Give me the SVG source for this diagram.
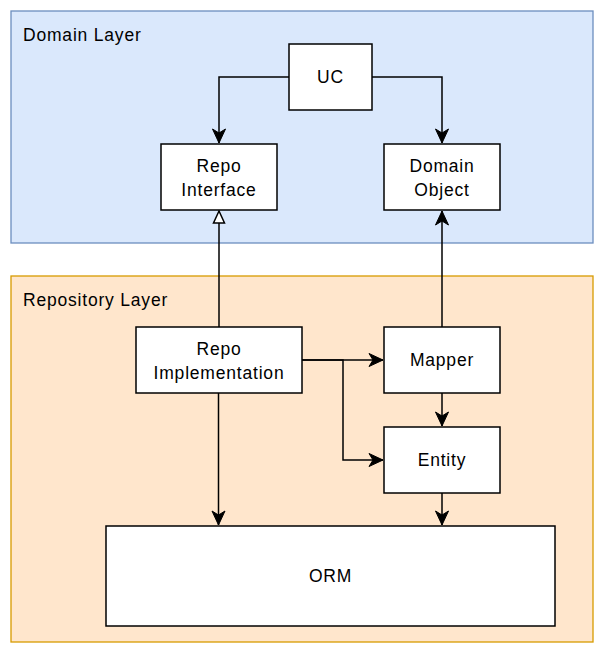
<svg xmlns="http://www.w3.org/2000/svg" width="606" height="657" viewBox="0 0 606 657">
  <style>
    .layer-domain { fill: #dae8fc; stroke: #6c8ebf; stroke-width: 1.3; }
    .layer-repo { fill: #ffe6cc; stroke: #d79b00; stroke-width: 1.3; }
    .node { fill: #ffffff; stroke: #000000; stroke-width: 1.5; }
    .lbl { font-family: "Liberation Sans", Arial, sans-serif; font-size: 17.5px; letter-spacing: 0.8px; fill: #000000; }
    .mid { text-anchor: middle; }
    .edge { fill: none; stroke: #000000; stroke-width: 1.5; }
  </style>
  <defs>
    <marker id="arrow" markerUnits="userSpaceOnUse" viewBox="-15 -8 16 16" refX="0" refY="0" markerWidth="16" markerHeight="16" orient="auto">
      <path d="M0,0 L-14,-6.5 L-10,0 L-14,6.5 Z" fill="#000000" stroke="#000000" stroke-width="1" stroke-linejoin="miter"/>
    </marker>
    <marker id="hollow" markerUnits="userSpaceOnUse" viewBox="-14 -8 16 16" refX="0" refY="0" markerWidth="16" markerHeight="16" orient="auto">
      <path d="M0,0 L-12,-5.5 L-12,5.5 Z" fill="#ffffff" stroke="#000000" stroke-width="1.5"/>
    </marker>
  </defs>

  <g id="domain-layer">
    <rect class="layer-domain" x="11" y="11" width="582" height="232"/>
    <text class="lbl" x="23" y="41">Domain Layer</text>
  </g>
  <g id="repository-layer">
    <rect class="layer-repo" x="11" y="276" width="582" height="366"/>
    <text class="lbl" x="23" y="306">Repository Layer</text>
  </g>

  <g id="connectors">
    <path class="edge" d="M289,77 H219 V143" marker-end="url(#arrow)"/>
    <path class="edge" d="M372,77 H442 V143" marker-end="url(#arrow)"/>
    <path class="edge" d="M219,327 V211" marker-end="url(#hollow)"/>
    <path class="edge" d="M442,327 V211" marker-end="url(#arrow)"/>
    <path class="edge" d="M302,360 H383" marker-end="url(#arrow)"/>
    <path class="edge" d="M302,360 H343 V460 H383" marker-end="url(#arrow)"/>
    <path class="edge" d="M442,393 V426" marker-end="url(#arrow)"/>
    <path class="edge" d="M442,493 V525" marker-end="url(#arrow)"/>
    <path class="edge" d="M218.5,393 V525" marker-end="url(#arrow)"/>
  </g>

  <g id="uc">
    <rect class="node" x="289" y="44" width="83" height="66"/>
    <text class="lbl mid" x="330.5" y="83.3">UC</text>
  </g>
  <g id="repo-interface">
    <rect class="node" x="161" y="144" width="116" height="66"/>
    <text class="lbl mid" x="219" y="171.7">Repo</text>
    <text class="lbl mid" x="219" y="195.7">Interface</text>
  </g>
  <g id="domain-object">
    <rect class="node" x="384" y="144" width="116" height="66"/>
    <text class="lbl mid" x="442" y="171.7">Domain</text>
    <text class="lbl mid" x="442" y="195.7">Object</text>
  </g>
  <g id="repo-implementation">
    <rect class="node" x="136" y="327" width="166" height="66"/>
    <text class="lbl mid" x="219" y="354.7">Repo</text>
    <text class="lbl mid" x="219" y="378.7">Implementation</text>
  </g>
  <g id="mapper">
    <rect class="node" x="384" y="327" width="116" height="66"/>
    <text class="lbl mid" x="442" y="366.3">Mapper</text>
  </g>
  <g id="entity">
    <rect class="node" x="384" y="427" width="116" height="66"/>
    <text class="lbl mid" x="442" y="466.3">Entity</text>
  </g>
  <g id="orm">
    <rect class="node" x="106" y="526" width="449" height="100"/>
    <text class="lbl mid" x="330.5" y="582.3">ORM</text>
  </g>
</svg>
